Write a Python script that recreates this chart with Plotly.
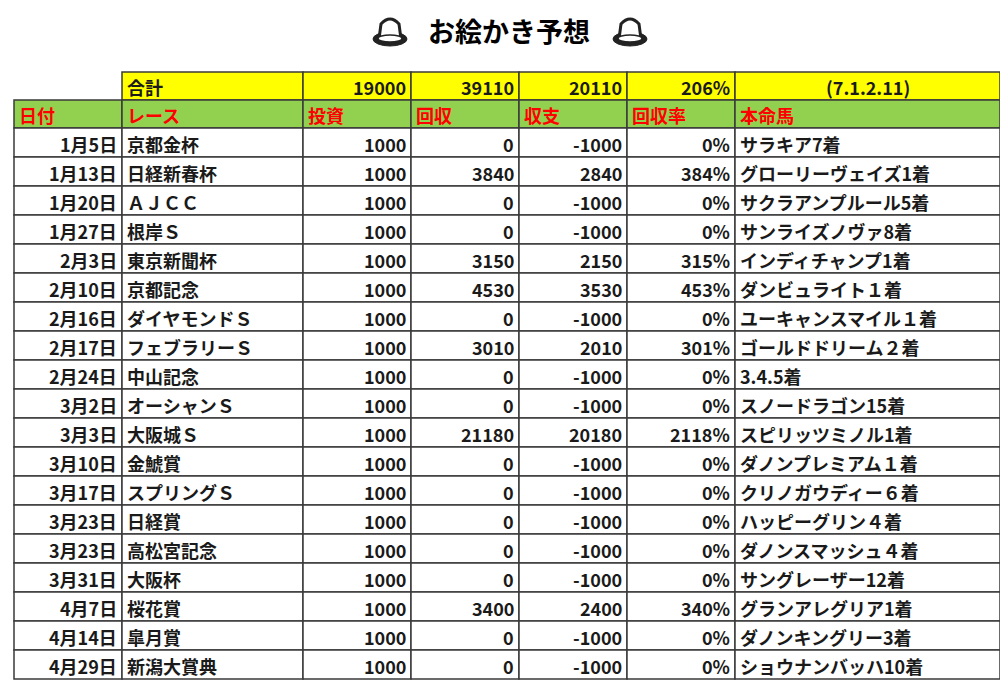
import plotly.graph_objects as go

dates = ["1月5日","1月13日","1月20日","1月27日","2月3日","2月10日","2月16日","2月17日","2月24日","3月2日","3月3日","3月10日","3月17日","3月23日","3月23日","3月31日","4月7日","4月14日","4月29日"]
races = ["京都金杯","日経新春杯","ＡＪＣＣ","根岸Ｓ","東京新聞杯","京都記念","ダイヤモンドＳ","フェブラリーＳ","中山記念","オーシャンＳ","大阪城Ｓ","金鯱賞","スプリングＳ","日経賞","高松宮記念","大阪杯","桜花賞","皐月賞","新潟大賞典"]
invest = [1000]*19
returns = [0,3840,0,0,3150,4530,0,3010,0,0,21180,0,0,0,0,0,3400,0,0]
balance = [-1000,2840,-1000,-1000,2150,3530,-1000,2010,-1000,-1000,20180,-1000,-1000,-1000,-1000,-1000,2400,-1000,-1000]
rate = ["0%","384%","0%","0%","315%","453%","0%","301%","0%","0%","2118%","0%","0%","0%","0%","0%","340%","0%","0%"]
horses = ["サラキア7着","グローリーヴェイズ1着","サクラアンプルール5着","サンライズノヴァ8着","インディチャンプ1着","ダンビュライト１着","ユーキャンスマイル１着","ゴールドドリーム２着","3.4.5着","スノードラゴン15着","スピリッツミノル1着","ダノンプレミアム１着","クリノガウディー６着","ハッピーグリン４着","ダノンスマッシュ４着","サングレーザー12着","グランアレグリア1着","ダノンキングリー3着","ショウナンバッハ10着"]
headers = ["日付","レース","投資","回収","収支","回収率","本命馬"]
totals = ["","合計","19000","39110","20110","206%","(7.1.2.11)"]
title = "お絵かき予想"

xs = [14,122,303,411,519,627,735,1000]
aligns = ["right","left","right","right","right","right","left"]
y_tot, y_hdr, y0 = 72, 100, 128
rh = (679-128)/19
FONT = "Noto Sans CJK JP"
border = "#3a3a3a"

fig = go.Figure()
shapes, ann = [], []

def cell(ci, top, bot, text, fill, color, align):
    shapes.append(dict(type="rect", x0=xs[ci], x1=xs[ci+1], y0=top, y1=bot, fillcolor=fill,
                       line=dict(color=border, width=1.5), layer="below"))
    if align == "right":
        x, xa = xs[ci+1]-3, "right"
    elif align == "center":
        x, xa = (xs[ci]+xs[ci+1])/2, "center"
    else:
        x, xa = xs[ci]+3, "left"
    ann.append(dict(x=x, y=(top+bot)/2+1, text=text, xanchor=xa, yanchor="middle", showarrow=False,
                    font=dict(family=FONT, size=18, color=color, weight="bold")))

for ci in range(1, 7):
    al = "center" if ci == 6 else ("left" if ci == 1 else "right")
    cell(ci, y_tot, y_hdr, totals[ci], "#FFFF00", "#1a1a1a", al)
for ci in range(7):
    cell(ci, y_hdr, y0, headers[ci], "#92D050", "#FF0000", "left")
for r in range(19):
    vals = [dates[r], races[r], str(invest[r]), str(returns[r]), str(balance[r]), rate[r], horses[r]]
    for ci in range(7):
        cell(ci, y0+r*rh, y0+(r+1)*rh, vals[ci], "white", "#1a1a1a", aligns[ci])

ann.append(dict(x=509, y=30, text=title, showarrow=False, xanchor="center", yanchor="middle",
                font=dict(family=FONT, size=27, color="black", weight="bold")))
for cx in [390, 630]:
    shapes.append(dict(type="circle", x0=cx-17, x1=cx+17, y0=32, y1=46, fillcolor="#222", line=dict(color="#222", width=1)))
    shapes.append(dict(type="path", path=f"M {cx-11},39 L {cx-9},24 Q {cx},14 {cx+9},24 L {cx+11},39 Z",
                       fillcolor="white", line=dict(color="#222", width=3)))
    shapes.append(dict(type="circle", x0=cx-12, x1=cx+12, y0=35, y1=42, fillcolor="white", line=dict(color="#222", width=1.5)))

fig.update_layout(width=1008, height=681, margin=dict(l=0, r=0, t=0, b=0),
                  plot_bgcolor="white", paper_bgcolor="white", shapes=shapes, annotations=ann,
                  xaxis=dict(range=[8,1016], visible=False, fixedrange=True),
                  yaxis=dict(range=[689,8], visible=False, fixedrange=True), showlegend=False)
fig.write_html("out.html")
